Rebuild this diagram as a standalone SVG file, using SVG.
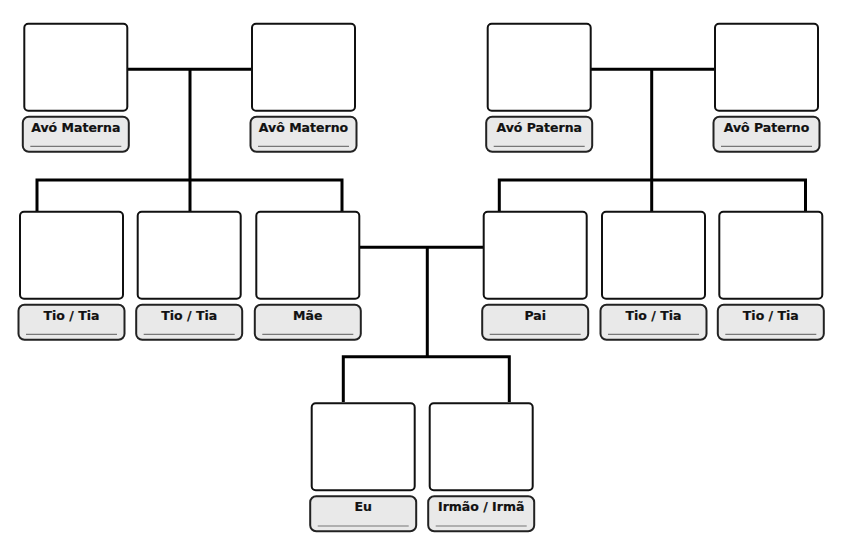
<svg xmlns="http://www.w3.org/2000/svg" width="842" height="543" viewBox="0 0 842 543">
<style>
.photo{fill:#fff;stroke:#111;stroke-width:2}
.lab{fill:#e9e9e9;stroke:#222;stroke-width:2}
.ul{stroke:#777;stroke-width:1.2}
.t{font-family:"DejaVu Sans","Liberation Sans",sans-serif;font-weight:bold;font-size:12.5px;fill:#111;stroke:#111;stroke-width:0.2;text-anchor:middle}
.c{fill:none;stroke:#000;stroke-width:3}
</style>
<defs>
<g id="card">
<rect class="photo" x="0" y="0" width="103" height="87" rx="4"/>
<rect class="lab" x="-1.5" y="93" width="106" height="35" rx="6"/>
<line class="ul" x1="6" y1="122.7" x2="97" y2="122.7"/>
</g>
</defs>
<rect width="842" height="543" fill="#fff"/>
<g id="connectors">
<path class="c" d="M128 69.3H251M190 69.3V211M37 211V180H342V211"/>
<path class="c" d="M590 69.3H714M651.7 69.3V211M499.3 211V180H805.5V211"/>
<path class="c" d="M359 247.3H483M427.3 247.3V356.7M343.3 402V356.7H509.3V402"/>
</g>
<g id="avo-materna" transform="translate(24.3,23.7)"><use href="#card"/><text class="t" x="51.5" y="108">Avó Materna</text></g>
<g id="avo-materno" transform="translate(252,23.7)"><use href="#card"/><text class="t" x="51.5" y="108">Avô Materno</text></g>
<g id="avo-paterna" transform="translate(487.7,23.7)"><use href="#card"/><text class="t" x="51.5" y="108">Avó Paterna</text></g>
<g id="avo-paterno" transform="translate(715,23.7)"><use href="#card"/><text class="t" x="51.5" y="108">Avô Paterno</text></g>
<g id="tio-tia-1" transform="translate(20,211.7)"><use href="#card"/><text class="t" x="51.5" y="108">Tio / Tia</text></g>
<g id="tio-tia-2" transform="translate(137.7,211.7)"><use href="#card"/><text class="t" x="51.5" y="108">Tio / Tia</text></g>
<g id="mae" transform="translate(256.3,211.7)"><use href="#card"/><text class="t" x="51.5" y="108">Mãe</text></g>
<g id="pai" transform="translate(483.7,211.7)"><use href="#card"/><text class="t" x="51.5" y="108">Pai</text></g>
<g id="tio-tia-3" transform="translate(602,211.7)"><use href="#card"/><text class="t" x="51.5" y="108">Tio / Tia</text></g>
<g id="tio-tia-4" transform="translate(719.3,211.7)"><use href="#card"/><text class="t" x="51.5" y="108">Tio / Tia</text></g>
<g id="eu" transform="translate(311.7,403.3)"><use href="#card"/><text class="t" x="51.5" y="108">Eu</text></g>
<g id="irmao-irma" transform="translate(429.7,403.3)"><use href="#card"/><text class="t" x="51.5" y="108">Irmão / Irmã</text></g>
</svg>
